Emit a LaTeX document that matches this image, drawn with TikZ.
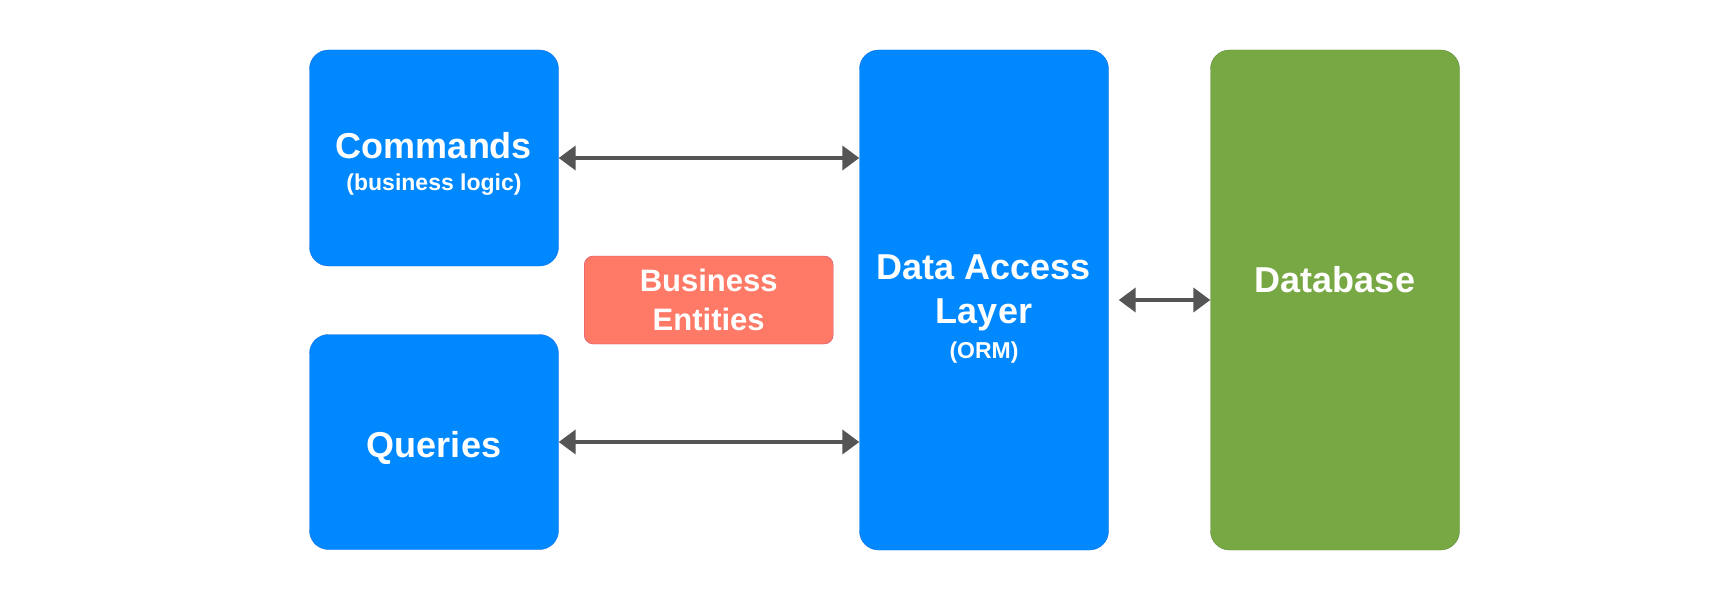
\documentclass[tikz,border=0pt]{standalone}
\usepackage{fontspec}
\setmainfont{Liberation Sans}
\usepackage{tikz}
\usetikzlibrary{arrows.meta}

\definecolor{layerblue}{RGB}{0,136,255}
\definecolor{layerblueline}{RGB}{20,110,230}
\definecolor{dbgreen}{RGB}{119,168,67}
\definecolor{dbgreenline}{RGB}{95,140,55}
\definecolor{entityred}{RGB}{255,121,103}
\definecolor{entityredline}{RGB}{205,75,110}
\definecolor{linkgray}{RGB}{85,85,85}

\tikzset{
	layer/.style={draw=layerblueline, fill=layerblue, rounded corners=19pt, minimum width=249pt, text=white, align=center, font=\bfseries\fontsize{36}{44}\selectfont},
	dbbox/.style={layer, draw=dbgreenline, fill=dbgreen},
	entity/.style={draw=entityredline, fill=entityred, rounded corners=9pt, minimum width=249pt, minimum height=88pt, text=white, align=center, font=\bfseries\fontsize{31}{39}\selectfont},
	link/.style={draw=linkgray, line width=4pt, {Triangle[length=17pt,width=24pt]}-{Triangle[length=17pt,width=24pt]}}
}

\begin{document}
\begin{tikzpicture}[x=1pt, y=-1pt]
	\useasboundingbox (0, 0) rectangle (1710, 615);

	\node[layer, minimum height=216pt, text height=70.8pt] (cmd) at (434, 158) {Commands\\[-12pt]\fontsize{23}{37}\selectfont (business logic)};
	\node[layer, minimum height=215pt, text height=37.5pt] (qry) at (434, 442) {Queries};
	\node[entity] (ent) at (708.7, 300) {Business\\Entities};
	\node[layer, minimum height=500pt, text height=121.8pt] (dal) at (984, 300) {Data Access\\[0pt]Layer\\[-9pt]\fontsize{23}{38}\selectfont (ORM)};
	\node[dbbox, minimum height=500pt, label={[text=white, font=\bfseries\fontsize{36}{44}\selectfont, yshift=20pt]center:Database}] (db) at (1335, 300) {};

	\draw[link] (cmd.east) -- (cmd.east -| dal.west);
	\draw[link] (qry.east) -- (qry.east -| dal.west);
	\draw[link] ([xshift=10pt]dal.east) -- (db.west);
\end{tikzpicture}
\end{document}
